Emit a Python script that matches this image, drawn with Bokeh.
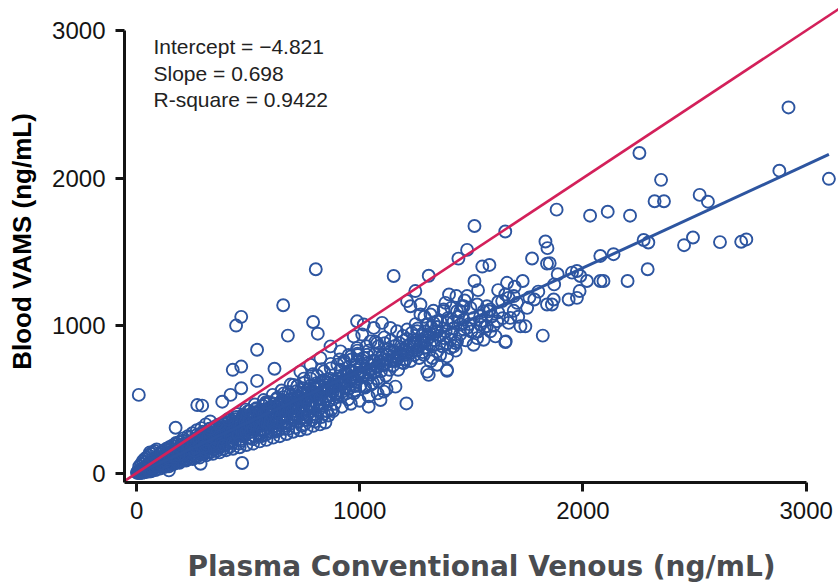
from bokeh.plotting import figure
from bokeh.models import FixedTicker, Label
from bokeh.embed import file_html
from bokeh.resources import INLINE

# ---- data (ng/mL) ----
plasma_low = [2,4,5,7,8,10,11,13,14,16,
 17,19,20,22,23,25,26,28,29,31,
 32,34,35,37,38,40,41,43,44,46,
 47,49,50,52,53,55,56,58,59,61,
 62,64,65,67,68,70,71,73,74,76,
 77,79,80,82,83,85,86,88,89,91,
 92,94,95,97,98,100,101,103,104,106,
 107,109,110,112,113,115,116,118,119,121,
 122,124,125,127,128,130,131,133,134,136,
 137,139,140,142,143,145,146,148,149,151,
 12,20,28,36,45,54,63,72,81,90,
 15,25,35,55,65,85,105,125,145,60]
vams_low = [3,1,9,4,12,6,15,2,10,18,
 8,22,13,5,25,16,30,11,20,27,
 14,35,24,18,42,29,9,33,21,48,
 31,26,55,38,17,44,60,30,49,36,
 70,45,25,58,40,66,51,33,82,47,
 60,38,75,55,95,43,68,58,80,50,
 110,72,62,86,45,70,128,78,92,55,
 84,66,100,140,58,88,75,115,68,95,
 150,80,105,62,90,120,75,98,165,84,
 110,72,130,95,60,102,155,88,118,80,
 45,60,80,95,105,120,130,140,150,160,
 0,2,5,10,12,20,30,40,45,140]

plasma_band = [153,156,158,161,163,166,168,171,173,176,
 178,181,183,186,188,191,193,196,198,201,
 203,206,208,211,213,216,218,221,223,226,
 228,231,233,236,238,241,243,246,248,251,
 253,256,258,261,263,266,268,271,273,276,
 278,281,283,286,288,291,293,296,298,301,
 303,306,308,311,313,316,318,321,323,326,
 328,331,333,336,338,341,343,346,348,351,
 353,356,358,361,363,366,368,371,373,376,
 378,381,383,386,388,391,393,396,398,401,
 403,406,408,411,413,416,418,421,423,426,
 428,431,433,436,438,441,443,446,448,451,
 160,175,190,210,230,250,270,290,310,330,
 170,195,220,245,270,300,330,360,390,420]
vams_band = [108,92,140,120,75,160,115,98,135,180,
 125,105,150,88,170,135,118,145,100,190,
 140,115,165,130,95,180,150,125,205,160,
 120,175,145,195,110,165,215,140,185,130,
 200,170,150,225,115,190,160,240,180,140,
 205,165,250,130,215,190,150,235,175,270,
 210,160,240,195,255,140,225,205,280,180,
 245,215,170,265,230,295,200,250,160,235,
 275,220,310,190,255,240,290,175,265,300,
 230,320,270,205,285,250,335,225,300,265,
 195,310,280,345,240,300,265,325,215,290,
 355,270,305,235,330,290,365,250,315,280,
 185,195,210,235,250,270,290,305,330,350,
 65,80,90,100,110,125,140,150,165,180]

plasma_fill = [105,118,132,147,162,177,192,207,222,237,
 252,267,282,297,312,327,342,357,372,387,
 402,417,432,447,462,477,492,507,522,537,
 552,567,582,597,612,627,642,657,672,687,
 702,717,732,747,762,777,792,807,822,837,
 205,215,225,235,245,255,265,275,285,295,
 305,315,325,335,345,355,365,375,385,395,
 405,415,425,435,445,455,465,475,485,495,
 505,515,525,535,545,555,565,575,585,595,
 605,615,625,635,645,655,665,675,685,695,
 705,715,725,735,745,755,765,775,785,795,
 805,815,825,835,845,855,865,875,885,895,
 905,915,925,935,945,955,965,975,985,995,
 1005,1020,1035,1050,1065,1080,1095,1110,1125,1140,
 1155,1170,1185,1200,1215,1230,1245,1260,1275,1290,
 210,260,310,360,410,460,510,560,610,660,
 230,280,330,380,430,480,530,580,630,680,
 710,740,770,800,830,860,890,920,950,980,
 720,750,780,810,840,870,900,930,960,990,
 50,70,90,110,130,150,170,190,30,40]
vams_fill = [40,150,48,175,60,205,70,220,85,240,
 95,255,105,280,120,300,130,320,140,335,
 155,360,165,380,175,395,190,420,200,440,
 215,455,225,480,240,500,250,515,265,535,
 280,555,290,575,300,590,320,610,330,630,
 150,170,135,185,160,200,175,215,190,205,
 230,200,250,215,265,235,280,250,290,260,
 300,270,320,285,335,300,350,315,360,330,
 375,340,390,355,405,370,420,385,430,400,
 445,410,455,425,470,440,480,450,495,465,
 505,475,520,490,535,500,545,515,555,525,
 570,540,585,550,595,565,610,575,625,590,
 640,600,655,615,670,630,690,645,700,660,
 720,680,745,700,760,720,780,740,800,760,
 820,780,840,800,860,815,875,835,890,850,
 125,150,180,210,240,270,300,330,360,390,
 190,230,270,310,350,390,430,470,510,550,
 420,445,460,480,500,520,535,550,570,590,
 590,610,640,660,690,710,735,760,790,810,
 25,35,50,65,80,95,110,125,60,75]

plasma_core = [300,320,340,360,380,400,420,440,460,480,
 500,520,540,560,580,600,620,640,660,680,
 700,720,740,760,780,800,820,840,860,880,
 900,920,940,960,980,1000,1020,1040,1060,1080,
 310,350,390,430,470,510,550,590,630,670,
 330,370,410,450,490,530,570,610,650,690,
 750,790,830,870,910,950,990,1030,1070,1110,
 760,800,840,880,920,960,1000,1040,1080,1120]
vams_core = [175,245,200,270,225,290,245,320,265,345,
 290,370,315,395,335,420,360,445,380,470,
 400,495,425,520,445,545,470,570,490,600,
 515,620,540,650,560,675,585,700,610,725,
 150,165,185,205,220,240,260,280,300,320,
 300,330,365,400,430,465,495,530,560,600,
 640,670,705,740,770,800,830,860,890,920,
 360,380,400,420,450,470,490,520,540,570]

plasma_mid = [453,456,460,463,467,470,474,477,481,484,
 488,491,495,498,502,505,509,512,516,519,
 523,526,530,533,537,540,544,547,551,554,
 558,561,565,568,572,575,579,582,586,589,
 593,596,600,603,607,610,614,617,621,624,
 628,631,635,638,642,645,649,652,656,659,
 663,666,670,673,677,680,684,687,691,694,
 698,701,705,708,712,715,719,722,726,729,
 733,737,741,745,749,753,757,761,765,769,
 773,777,781,785,789,793,797,801,805,809,
 813,818,823,828,833,838,843,848,853,858,
 863,868,873,878,883,888,893,898,460,520,
 560,620,680,740,800,860,500,580,660,720]
vams_mid = [320,260,355,300,230,340,285,375,250,310,
 345,275,390,305,240,360,325,280,405,340,
 295,380,250,350,415,310,370,270,340,395,
 430,300,365,285,400,345,260,420,330,375,
 310,445,360,280,395,420,335,470,300,385,
 350,430,290,410,460,325,385,495,350,420,
 300,455,390,350,480,415,330,440,375,505,
 420,360,470,395,310,450,520,380,430,350,
 490,410,545,380,460,330,505,430,395,560,
 470,415,520,360,490,440,575,400,530,465,
 600,430,510,380,555,470,620,500,420,580,
 490,640,430,550,600,470,530,620,200,230,
 250,280,300,320,350,390,420,480,540,590]

plasma_upper = [903,908,914,919,925,930,936,941,947,952,
 958,963,969,974,980,985,991,996,1002,1007,
 1013,1018,1024,1029,1035,1040,1046,1051,1057,1062,
 1068,1073,1079,1084,1090,1095,1101,1106,1112,1117,
 1123,1128,1134,1139,1145,1150,1156,1161,1167,1172,
 1178,1183,1189,1194,1200,1205,1211,1216,1222,1227,
 1233,1238,1244,1249,1255,1260,1266,1271,1277,1282,
 1288,1293,1299,1304,1310,1315,1321,1326,1332,1337]
vams_upper = [640,560,700,520,610,745,580,660,500,690,
 600,770,650,540,720,620,800,680,590,740,
 660,780,580,710,640,830,700,600,760,680,
 810,720,640,860,760,690,800,730,880,660,
 770,840,700,900,790,730,860,760,820,700,
 880,800,750,930,840,770,910,820,870,760,
 950,860,800,900,830,980,780,870,930,820,
 890,960,850,1010,920,870,990,780,940,900]

sparse_points = [
 (10,530),(272,461),(294,457),(175,307),(473,68),(287,63),(145,18),(384,484),
 (446,1000),(469,1059),(657,1138),(678,932),(540,836),(431,700),(469,722),(540,625),
 (618,707),(421,530),(469,575),(704,598),(791,1024),(812,945),(803,1382),(988,1029),
 (846,343),(1209,472),(1152,1336),
 (1249,1234),(1212,1166),(1227,1131),(1272,1143),(1384,1154),(1376,1109),(1436,1097),(1466,1131),
 (1100,1018),(1137,984),(1167,961),(973,927),(1011,939),(1048,893),(1078,881),(1212,973),
 (1257,961),(1302,1007),(1331,1018),(1347,961),(1391,881),(1436,893),(1406,847),(1347,825),
 (1287,802),(1317,757),(1347,734),(1302,688),(1391,700),(1309,666),(1137,825),(1167,779),
 (1197,745),(1108,734),(1048,666),(1085,620),(1108,552),(1160,586),(1040,450),(1093,495),
 (988,757),(1033,802),(988,847),(914,825),(869,859),(824,779),(779,734),(734,688),
 (1063,984),(1018,1007),(1272,1075),(1317,1075),(1347,1029)]

cluster_points = [
 (1300,900),(1315,945),(1330,870),(1345,990),(1360,930),(1370,860),(1385,960),(1395,1050),
 (1410,940),(1420,980),(1440,1060),(1450,940),(1465,1040),(1475,900),(1490,1010),(1500,960),
 (1510,870),(1530,960),(1545,1030),(1560,990),(1600,1000),(1620,1090),(1640,1050),(1690,1100),
 (1710,1060),(1750,1120),(1760,1190),(1800,1230),(1690,1200),(1620,1160),(1360,800),(1330,1100),
 (1290,1060),(1250,1010),(1240,880),(1410,1120),(1470,1170),(1530,1240),(1620,1240),(1430,830)]

high_points = [
 (1782,1177),(1839,1143),(1861,1143),(1869,1177),(1936,1177),(1973,1188),(1985,1234),
 (1887,1348),(1951,1359),(1973,1370),(1988,1336),(2018,1302),(2078,1302),(2092,1302),
 (2078,1472),(2137,1484),(1820,932),(1742,995),(1720,995),(1654,893),(1705,1154),
 (1638,1166),(1667,1188),(1652,1211),(1585,1109),(1570,1131),(1555,1097),(1593,1063),
 (1615,1029),(1667,1018),(1675,1052),(1540,1007),(1570,995),(1585,961),(1608,927),
 (1652,888),(1526,915),(1555,904),(1481,984),(1466,973),(1451,1007),(1376,1097),
 (1400,1211),(1433,1200),(1481,1200),(1361,1029),(1391,1018),(1421,1029),(1376,915),
 (1406,904),(1429,881),(1421,859),(1391,791),(1391,693),(1459,1131),(1451,1097),
 (1496,1120),(1526,1143),(1578,1097),(1511,1052),(1540,1063),(1514,1302),(1549,1400),
 (1581,1411),(1772,1455),(1832,1570),(1841,1525),(1660,1290),(1694,1263),(1730,1302),
 (2921,2479),(2253,2170),(2350,1988),(2321,1843),(2363,1843),(2523,1886),(2560,1840),
 (2880,2050),(3102,1995),(1882,1786),(2032,1745),(2111,1772),(2211,1745),(1514,1675),
 (1652,1638),(1481,1513),(1442,1454),(1309,1338),(1839,1420),(1851,1423),(1871,1279),
 (2272,1580),(2293,1563),(2453,1545),(2493,1597),(2614,1566),(2709,1568),(2732,1584),
 (2290,1382),(2200,1302)]

intercept = -4.821
slope = 0.698
r_square = 0.9422
ticks = [0, 1000, 2000, 3000]
stats_text = ["Intercept = \u22124.821", "Slope = 0.698", "R-square = 0.9422"]

pairs = (list(zip(plasma_low, vams_low)) + list(zip(plasma_band, vams_band))
         + list(zip(plasma_fill, vams_fill)) + list(zip(plasma_core, vams_core))
         + list(zip(plasma_mid, vams_mid)) + list(zip(plasma_upper, vams_upper))
         + sparse_points + cluster_points + high_points)
xs = [pt[0] for pt in pairs]
ys = [pt[1] for pt in pairs]

BLUE = "#2d55a0"
RED = "#d3205a"
INK = "#141414"

p = figure(width=838, height=586, x_range=(-54, 3145), y_range=(-64, 3204),
           output_backend="svg", toolbar_location=None,
           min_border_left=124, min_border_right=0, min_border_top=0,
           min_border_bottom=104, background_fill_color="white",
           border_fill_color="white")
p.outline_line_color = None
p.xgrid.visible = False
p.ygrid.visible = False

p.scatter(xs, ys, marker="circle", size=12, fill_color=None,
          line_color=BLUE, line_width=1.9)

x_fit = [min(xs), max(xs)]
p.line(x_fit, [intercept + slope * v for v in x_fit], line_color=BLUE, line_width=3)
p.line([-200, 3400], [-200, 3400], line_color=RED, line_width=2.6)

for ax in (p.xaxis[0], p.yaxis[0]):
    ax.ticker = FixedTicker(ticks=ticks)
    ax.axis_line_width = 3
    ax.axis_line_color = INK
    ax.major_tick_line_width = 3
    ax.major_tick_line_color = INK
    ax.major_tick_in = 0
    ax.major_tick_out = 9
    ax.minor_tick_line_color = None
    ax.major_label_text_font = "Liberation Sans"
    ax.major_label_text_font_size = "24px"
    ax.major_label_text_color = INK

p.xaxis.bounds = (-54, 3000)
p.yaxis.bounds = (-64, 3000)
p.xaxis.major_label_standoff = 10
p.yaxis.major_label_standoff = 10

p.xaxis.axis_label = "Plasma Conventional Venous (ng/mL)"
p.xaxis.axis_label_text_font = "DejaVu Sans"
p.xaxis.axis_label_text_font_style = "bold"
p.xaxis.axis_label_text_font_size = "28px"
p.xaxis.axis_label_text_color = "#4a4c50"
p.xaxis.axis_label_standoff = 28

p.yaxis.axis_label = "Blood VAMS (ng/mL)"
p.yaxis.axis_label_text_font = "Liberation Sans"
p.yaxis.axis_label_text_font_style = "bold"
p.yaxis.axis_label_text_font_size = "26px"
p.yaxis.axis_label_text_color = "#000000"
p.yaxis.axis_label_standoff = 12

for txt, yv in zip(stats_text, [2892, 2709, 2534]):
    p.add_layout(Label(x=76, y=yv, text=txt, text_font="Liberation Sans",
                       text_font_size="21px", text_color="#222222",
                       text_baseline="alphabetic", text_align="left"))

open("out.html", "w").write(file_html(p, INLINE))
